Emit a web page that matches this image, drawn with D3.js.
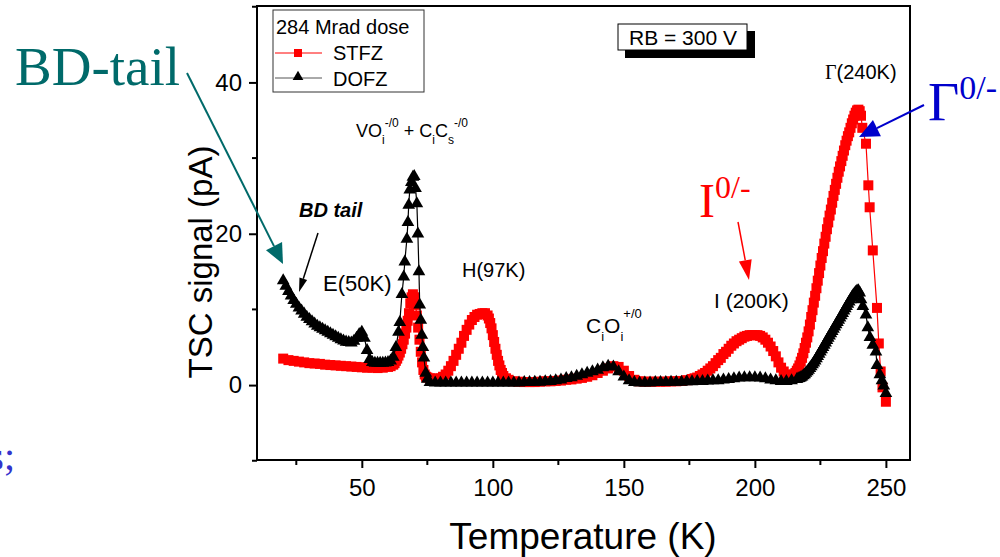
<!DOCTYPE html>
<html><head><meta charset="utf-8">
<script src="https://cdn.jsdelivr.net/npm/d3@7"></script>
<style>body{margin:0;background:#fff}svg{display:block}</style>
</head><body>
<svg id="c" width="1000" height="557"></svg>
<script>
// STFZ (red squares): temperature (K) and TSC signal (pA)
const stfzT = [
 20,22,24,26,28,30,32,34,36,38,40,42,44,46,48,50,52,54,56,58,
 60,61,62,62.5,63,63.5,64,64.5,65,65.5,66,66.5,67,67.5,68,68.5,69,69.5,70,70.5,
 71,71.5,72,72.5,73,73.5,74,74.5,75,76,77,78,79,80,81,82,83,84,85,86,
 87,88,89,90,91,92,93,94,95,96,97,98,98.5,99,99.5,100,100.5,101,101.5,102,
 102.5,103,103.5,104,105,106,108,110,112,114,116,118,120,122,124,126,128,130,132,134,
 136,138,140,142,144,146,148,150,152,154,156,158,160,162,164,166,168,170,172,174,
 176,177,178,179,180,181,182,183,184,185,186,187,188,189,190,191,192,193,194,195,
 196,197,198,199,200,201,202,203,204,205,206,207,208,209,210,211,212,213,214,214.5,
 215,215.5,216,216.5,217,217.5,218,218.5,219,219.5,220,220.5,221,221.5,222,222.5,223,223.5,224,224.5,
 225,225.5,226,226.5,227,227.5,228,228.5,229,229.5,230,230.5,231,231.5,232,232.5,233,233.5,234,234.5,
 235,235.5,236,236.5,237,237.5,238,238.5,239,239.5,240,240.5,241,242.4,243.3,243.8,245,246.6,247.3,248,
 248.7,250];
const stfzV = [
 3.5,3.3,3.2,3.1,3.0,2.9,2.85,2.8,2.7,2.65,2.6,2.55,2.5,2.45,2.4,2.35,2.3,2.3,2.25,2.3,
 2.4,2.5,2.7,2.9,3.2,3.5,3.9,4.3,4.8,5.4,6.0,6.8,7.6,8.5,9.5,10.8,11.6,12.0,11.6,10.6,
 9.2,7.6,6.0,4.4,3.0,2.0,1.4,1.1,1.0,0.9,0.85,0.8,0.85,0.9,1.1,1.4,1.9,2.5,3.2,4.0,
 4.8,5.6,6.5,7.3,8.0,8.6,9.0,9.3,9.4,9.5,9.5,9.2,8.8,8.2,7.5,6.6,5.7,4.8,4.0,3.2,
 2.6,2.0,1.6,1.2,0.9,0.7,0.5,0.45,0.4,0.4,0.4,0.45,0.5,0.5,0.55,0.6,0.7,0.75,0.85,0.95,
 1.1,1.3,1.6,1.9,2.2,2.5,2.4,1.9,1.2,0.7,0.5,0.45,0.45,0.45,0.45,0.45,0.5,0.5,0.55,0.65,
 0.8,0.9,1.0,1.2,1.4,1.6,1.9,2.2,2.5,2.9,3.3,3.6,4.1,4.4,4.8,5.2,5.5,5.8,6.0,6.2,
 6.4,6.5,6.6,6.6,6.6,6.6,6.5,6.3,6.0,5.6,5.1,4.5,3.8,3.0,2.3,1.8,1.4,1.1,1.2,1.3,
 1.4,1.6,1.9,2.2,2.6,3.1,3.6,4.2,4.9,5.6,6.3,7.1,8.0,9.0,9.9,10.9,11.8,12.8,13.8,14.8,
 15.8,16.8,17.7,18.7,19.6,20.6,21.5,22.4,23.2,24.1,25.0,25.8,26.6,27.4,28.2,28.9,29.6,30.3,31.0,31.7,
 32.3,32.9,33.4,34.0,34.6,35.1,35.6,36.0,36.3,36.4,36.2,35.6,34.0,31.9,26.4,23.5,17.8,10.2,5.5,1.8,
 -0.3,-2.2];

// DOFZ (black triangles)
const dofzT = [
 20,21,22,23,24,25,26,27,28,29,30,31,32,33,34,35,36,37,38,39,
 40,41,42,43,44,45,46,47,48,49,50,51,52,53,54,55,56,57,58,59,
 60,61,62,63,64,64.5,65.3,66,66.4,67.2,67.6,67.9,68.3,68.9,69.5,70,70.5,71,71.4,71.8,
 72.1,72.5,72.9,73.3,73.7,74.4,75,76,78,80,82,84,86,88,90,92,94,96,98,100,
 102,104,106,108,110,112,114,116,118,120,122,124,126,128,130,132,134,136,138,140,
 142,144,146,148,150,152,154,156,158,160,162,164,166,168,170,172,174,176,178,180,
 182,184,186,188,190,192,194,196,198,200,202,204,206,208,210,212,214,216,216.5,217,
 217.5,218,218.5,219,219.5,220,220.5,221,221.5,222,222.5,223,223.5,224,224.5,225,225.5,226,226.5,227,
 227.5,228,228.5,229,229.5,230,230.5,231,231.5,232,232.5,233,233.5,234,234.5,235,235.5,236,236.5,237,
 237.5,238,238.5,239,239.5,240,240.5,241.2,242.4,243.1,243.9,245,246.2,246.6,247.7,248.5,249.2,250];
const dofzV = [
 13.8,13.1,12.4,11.8,11.2,10.7,10.2,9.8,9.4,9.0,8.7,8.4,8.1,7.8,7.6,7.4,7.2,7.0,6.8,6.6,
 6.4,6.2,6.0,5.85,5.7,5.65,5.6,5.8,6.2,6.7,7.0,6.2,4.6,3.4,3.0,2.9,2.9,2.9,2.9,2.95,
 3.0,3.2,3.7,5.0,7.0,8.3,12.0,14.3,16.3,19.3,21.5,23.8,25.8,26.8,27.5,27.6,26.0,24.0,20.0,15.0,
 10.6,8.6,6.6,5.0,3.6,1.6,0.8,0.35,0.3,0.3,0.3,0.3,0.3,0.3,0.3,0.3,0.3,0.3,0.3,0.3,
 0.3,0.3,0.3,0.3,0.3,0.35,0.35,0.4,0.4,0.45,0.5,0.6,0.7,0.9,1.0,1.2,1.4,1.6,1.8,2.0,
 2.3,2.5,2.4,1.8,1.1,0.6,0.35,0.3,0.3,0.3,0.35,0.35,0.35,0.4,0.4,0.4,0.45,0.45,0.5,0.5,
 0.55,0.6,0.6,0.7,0.75,0.85,0.95,1.0,1.0,1.0,0.95,0.85,0.7,0.6,0.5,0.5,0.6,0.75,0.85,0.9,
 1.0,1.1,1.25,1.4,1.6,1.8,2.0,2.2,2.45,2.7,2.95,3.2,3.5,3.8,4.1,4.4,4.7,5.0,5.3,5.6,
 5.9,6.2,6.5,6.8,7.1,7.4,7.7,8.0,8.3,8.6,8.9,9.2,9.5,9.8,10.1,10.4,10.7,11.0,11.3,11.6,
 11.85,12.1,12.3,12.45,12.5,12.2,11.3,10.4,9.3,7.6,6.3,5.3,4.4,2.6,1.4,0.6,-0.1,-1.1];

const xTicks = [50,100,150,200,250];
const xMinor = [25,75,125,175,225];
const yTicks = [0,20,40];
const yMinor = [-10,10,30,50];

const svg = d3.select('#c');
const L=257,R=910,T=6,B=460;
const x = d3.scaleLinear().domain([10,259.2]).range([L,R]);
const y = d3.scaleLinear().domain([-9.9,50.1]).range([B,T]);
const SANS='"Liberation Sans", Arial, sans-serif';
const SERIF='"Liberation Serif", "Times New Roman", serif';

// frame
svg.append('rect').attr('x',L).attr('y',T).attr('width',R-L).attr('height',B-T)
  .attr('fill','none').attr('stroke','#000').attr('stroke-width',2);

// axes
const xAxis = d3.axisBottom(x).tickValues(xTicks).tickSize(8).tickPadding(11).tickSizeOuter(0);
const gx = svg.append('g').attr('transform',`translate(0,${B})`).call(xAxis);
gx.select('.domain').remove();
gx.selectAll('text').attr('font-family',SANS).attr('font-size',24).attr('fill','#000');
gx.selectAll('line').attr('stroke-width',2);
svg.append('g').selectAll('line').data(xMinor).join('line')
  .attr('x1',d=>x(d)).attr('x2',d=>x(d)).attr('y1',B).attr('y2',B+5).attr('stroke','#000').attr('stroke-width',2);

const yAxis = d3.axisLeft(y).tickValues(yTicks).tickSize(8).tickPadding(7).tickSizeOuter(0);
const gy = svg.append('g').attr('transform',`translate(${L},0)`).call(yAxis);
gy.select('.domain').remove();
gy.selectAll('text').attr('font-family',SANS).attr('font-size',24).attr('fill','#000');
gy.selectAll('line').attr('stroke-width',2);
svg.append('g').selectAll('line').data(yMinor).join('line')
  .attr('x1',L-5).attr('x2',L).attr('y1',d=>y(d)).attr('y2',d=>y(d)).attr('stroke','#000').attr('stroke-width',2);

// axis titles
svg.append('text').attr('x',583).attr('y',549).attr('text-anchor','middle')
  .attr('font-family',SANS).attr('font-size',37).text('Temperature (K)');
svg.append('text').attr('transform','translate(212,262) rotate(-90)').attr('text-anchor','middle')
  .attr('font-family',SANS).attr('font-size',33).text('TSC signal (pA)');

// series
const plot = svg.append('g');
const stfz = stfzT.map((t,i)=>[t,stfzV[i]]);
const dofz = dofzT.map((t,i)=>[t,dofzV[i]]);
const line = d3.line().x(d=>x(d[0])).y(d=>y(d[1]));
plot.append('path').attr('d',line(stfz)).attr('fill','none').attr('stroke','#ff0000').attr('stroke-width',1.2);
plot.selectAll('rect.s').data(stfz).join('rect').attr('class','s')
  .attr('x',d=>x(d[0])-5).attr('y',d=>y(d[1])-5).attr('width',10).attr('height',10).attr('fill','#ff0000');
plot.append('path').attr('d',line(dofz)).attr('fill','none').attr('stroke','#000').attr('stroke-width',1.2);
const tri = d3.symbol().type(d3.symbolTriangle).size(70);
plot.selectAll('path.d').data(dofz).join('path').attr('class','d')
  .attr('transform',d=>`translate(${x(d[0])},${y(d[1])})`).attr('d',tri).attr('fill','#000');

// legend
const lg = svg.append('g');
lg.append('rect').attr('x',273).attr('y',10).attr('width',151).attr('height',82).attr('fill','#fff').attr('stroke','#333').attr('stroke-width',1);
lg.append('text').attr('x',276).attr('y',34).attr('font-family',SANS).attr('font-size',20).text('284 Mrad dose');
lg.append('line').attr('x1',275).attr('x2',322).attr('y1',53).attr('y2',53).attr('stroke','#ff0000').attr('stroke-width',1);
lg.append('rect').attr('x',294).attr('y',49).attr('width',8).attr('height',8).attr('fill','#ff0000');
lg.append('text').attr('x',333).attr('y',60).attr('font-family',SANS).attr('font-size',20).text('STFZ');
lg.append('line').attr('x1',275).attr('x2',322).attr('y1',78).attr('y2',78).attr('stroke','#555').attr('stroke-width',1);
lg.append('path').attr('transform','translate(298,77)').attr('d',d3.symbol().type(d3.symbolTriangle).size(50)).attr('fill','#000');
lg.append('text').attr('x',333).attr('y',86).attr('font-family',SANS).attr('font-size',20).text('DOFZ');

// RB box
svg.append('rect').attr('x',625).attr('y',31).attr('width',130).attr('height',27).attr('fill','#000');
svg.append('rect').attr('x',618).attr('y',24).attr('width',129).attr('height',26).attr('fill','#fff').attr('stroke','#000').attr('stroke-width',1);
svg.append('text').attr('x',683).attr('y',45).attr('text-anchor','middle').attr('font-family',SANS).attr('font-size',21).text('RB = 300 V');

// peak labels
function lab(xp,yp,size){return svg.append('text').attr('x',xp).attr('y',yp).attr('font-family',SANS).attr('font-size',size);}
const t1 = lab(356,137,18);
t1.append('tspan').text('VO');
t1.append('tspan').attr('font-size',12).attr('dy',7).text('i');
t1.append('tspan').attr('font-size',12).attr('dy',-17).text('-/0');
t1.append('tspan').attr('dy',10).text(' + C');
t1.append('tspan').attr('font-size',12).attr('dy',7).text('i');
t1.append('tspan').attr('dy',-7).text('C');
t1.append('tspan').attr('font-size',12).attr('dy',7).text('s');
t1.append('tspan').attr('font-size',12).attr('dy',-17).text('-/0');
lab(323,291,22).text('E(50K)');
lab(462,277,20).text('H(97K)');
const t2 = lab(586,333,21);
t2.append('tspan').text('C');
t2.append('tspan').attr('font-size',13).attr('dy',8).text('i');
t2.append('tspan').attr('dy',-8).text('O');
t2.append('tspan').attr('font-size',13).attr('dy',8).text('i');
t2.append('tspan').attr('font-size',13).attr('dy',-23).text('+/0');
lab(714,308,21).text('I (200K)');
const t3 = lab(825,79,20);
t3.append('tspan').attr('font-family',SERIF).text('\u0393');
t3.append('tspan').text('(240K)');
svg.append('text').attr('x',299).attr('y',217).attr('font-family',SANS).attr('font-size',20)
  .attr('font-weight','bold').attr('font-style','italic').text('BD tail');

// arrows
function arrow(x1,y1,x2,y2,col,w,hl,hw){
  const a=Math.atan2(y2-y1,x2-x1);
  const bx=x2-hl*Math.cos(a), by=y2-hl*Math.sin(a);
  svg.append('line').attr('x1',x1).attr('y1',y1).attr('x2',bx).attr('y2',by).attr('stroke',col).attr('stroke-width',w);
  const px=-Math.sin(a)*hw/2, py=Math.cos(a)*hw/2;
  svg.append('path').attr('d',`M${x2},${y2}L${bx+px},${by+py}L${bx-px},${by-py}Z`).attr('fill',col);
}
arrow(318,233,299,292,'#000',1.5,14,8);
arrow(187,73,283,264,'#006a6a',2,20,18);
arrow(738,222,749,280,'#ff0000',1.5,20,13);
arrow(924,105,859,137,'#0000cc',2,20,18);

// big annotations
svg.append('text').attr('x',15).attr('y',85).attr('font-family',SERIF).attr('font-size',55).attr('fill','#006a6a').text('BD-tail');
const g1 = svg.append('text').attr('x',699).attr('y',217).attr('font-family',SERIF).attr('font-size',48).attr('fill','#ff0000');
g1.append('tspan').text('I');
g1.append('tspan').attr('font-size',32).attr('dy',-19).text('0/-');
const g2 = svg.append('text').attr('x',928).attr('y',120).attr('font-family',SERIF).attr('font-size',54).attr('fill','#0000cc');
g2.append('tspan').text('\u0393');
g2.append('tspan').attr('font-size',34).attr('dy',-21).text('0/-');
svg.append('text').attr('x',15).attr('y',470).attr('text-anchor','end').attr('font-family',SERIF).attr('font-size',40).attr('fill','#3333cc').text('s;');
</script>
</body></html>
